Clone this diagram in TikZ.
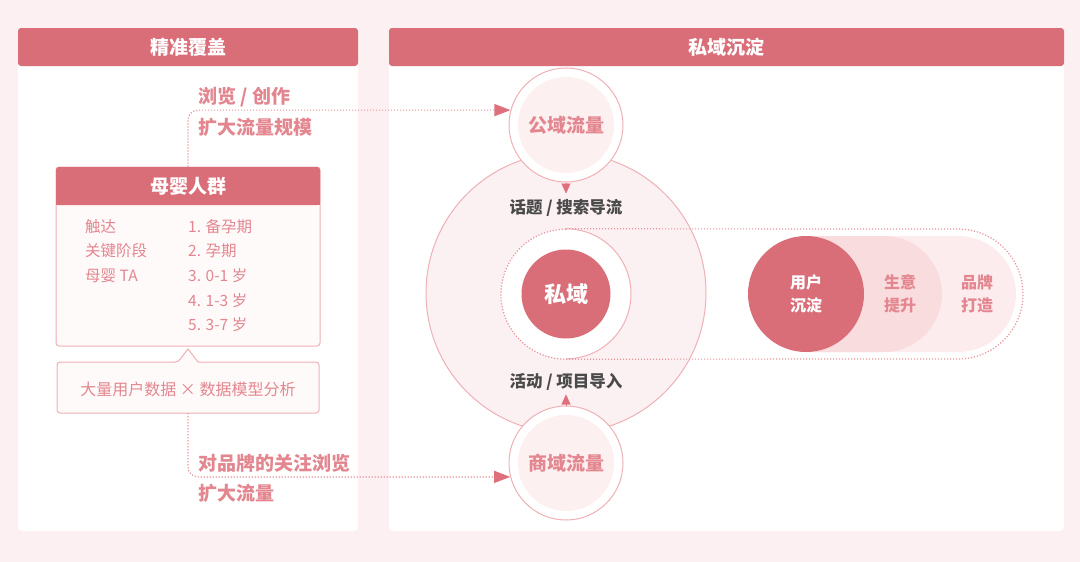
\documentclass[tikz,border=0pt]{standalone}
\usepackage{fontspec}
\setmainfont{Noto Sans CJK SC}
\usetikzlibrary{arrows.meta}
\definecolor{bgc}{HTML}{FCF0F2}
\definecolor{hdr}{HTML}{D96E79}
\definecolor{pinktxt}{HTML}{E3868F}
\definecolor{lightln}{HTML}{EFB0B6}
\definecolor{dotc}{HTML}{E8939B}
\definecolor{arrowc}{HTML}{DE707B}
\definecolor{boxf}{HTML}{FFFAFA}
\definecolor{bigf}{HTML}{FCF1F2}
\definecolor{cfill}{HTML}{FCF0F0}
\definecolor{st1}{HTML}{F9DCDE}
\definecolor{st2}{HTML}{FCECEE}
\definecolor{graytxt}{HTML}{4A4A4A}
\tikzset{
  hdrbar/.style={fill=hdr, rounded corners=3pt, text=white, inner sep=0pt, font=\bfseries\fontsize{19}{22}\selectfont},
  hdrtxt/.style={text=white, inner sep=0pt, font=\bfseries\fontsize{19}{22}\selectfont},
  lbl/.style={text=pinktxt, inner sep=0pt, anchor=west, font=\bfseries\fontsize{19}{22}\selectfont},
  listtxt/.style={text=pinktxt, inner sep=0pt, anchor=west, font=\fontsize{15.5}{18}\selectfont},
  dotln/.style={dotc, line width=1.2pt, dash pattern=on 1.2pt off 1.8pt},
  bigarrow/.style={-{Triangle[length=16pt,width=12pt,color=arrowc]}},
  smallarrow/.style={arrowc, line width=0.1pt, -{Triangle[length=10pt,width=9pt]}},
  grayl/.style={text=graytxt, inner sep=0pt, font=\bfseries\fontsize{16.5}{19}\selectfont},
  ctxt/.style={text=pinktxt, font=\bfseries\fontsize{19}{22}\selectfont},
}
\begin{document}
\begin{tikzpicture}[x=1pt,y=1pt]
\useasboundingbox (0,0) rectangle (1080,-562);
\fill[bgc] (0,0) rectangle (1080,-562);
% panels
\fill[white, rounded corners=4pt] (18,-28) rectangle (358,-531);
\fill[white, rounded corners=4pt] (389,-28) rectangle (1064,-531);
\node[hdrbar, minimum width=340pt, minimum height=38pt] (h1) at (188,-47) {精准覆盖};
\node[hdrbar, minimum width=675pt, minimum height=38pt] (h2) at (726.5,-47) {私域沉淀};

% box 母婴人群
\node[draw=lightln, fill=boxf, line width=1pt, rounded corners=3pt, minimum width=264pt, minimum height=179pt, inner sep=0pt] (b1) at (188,-256.5) {};
\fill[hdr, rounded corners=3pt] (56,-167) rectangle (320,-205);
\fill[hdr] (56,-195) rectangle (320,-205);
\node[hdrtxt] (b1h) at (188,-186) {母婴人群};
\node[listtxt] (a1) at (85,-227) {触达};
\node[listtxt] (a2) at (85,-251) {关键阶段};
\node[listtxt] (a3) at (85,-276) {母婴 TA};
\node[listtxt] (c1) at (188,-227) {1. 备孕期};
\node[listtxt] (c2) at (188,-251) {2. 孕期};
\node[listtxt] (c3) at (188,-276) {3. 0-1 岁};
\node[listtxt] (c4) at (188,-301) {4. 1-3 岁};
\node[listtxt] (c5) at (188,-325) {5. 3-7 岁};

% notch box
\node[minimum width=262pt, minimum height=51pt, inner sep=0pt] (b2) at (188,-387.5) {};
\draw[lightln, line width=1pt, fill=boxf, rounded corners=3pt] (57,-362) -- (178,-362) [sharp corners] -- (188,-349) -- (198,-362) [rounded corners=3pt] -- (319,-362) -- (319,-413) -- (57,-413) -- cycle;
\node[text=pinktxt, inner sep=0pt, font=\fontsize{16}{18}\selectfont] (b2t) at (188,-389) {大量用户数据 × 数据模型分析};

% big circle
\node[circle, draw=lightln, line width=1pt, fill=bigf, minimum size=280pt, inner sep=0pt] (big) at (566,-293) {};

% top / bottom circles
\node[circle, draw=lightln, line width=1pt, fill=white, minimum size=114pt, inner sep=0pt] (topc) at (566,-125) {};
\node[circle, fill=cfill, minimum size=96pt, inner sep=0pt, ctxt] (topi) at (topc) {公域流量};
\node[circle, draw=lightln, line width=1pt, fill=white, minimum size=114pt, inner sep=0pt] (botc) at (566,-463) {};
\node[circle, fill=cfill, minimum size=96pt, inner sep=0pt, ctxt] (boti) at (botc) {商域流量};

% inner white circle
\node[circle, fill=white, minimum size=130pt, inner sep=0pt] (inn) at (566,-294) {};
\draw[lightln, line width=1pt] (inn.north) arc[start angle=90, end angle=-90, radius=65pt];

% stadiums
\fill[st2] (806,-236) -- (958,-236) arc[start angle=90, end angle=-90, radius=58pt] -- (806,-352) -- cycle;
\fill[st1] (806,-236) -- (884,-236) arc[start angle=90, end angle=-90, radius=58pt] -- (806,-352) -- cycle;
\node[circle, fill=hdr, minimum size=116pt, inner sep=0pt, text=white, align=center, font=\bfseries\fontsize{16}{23}\selectfont] (yh) at (806,-294) {用户\\沉淀};
\node[text=pinktxt, align=center, inner sep=0pt, font=\bfseries\fontsize{16}{23}\selectfont] (sj) at (900,-294) {生意\\提升};
\node[text=pinktxt, align=center, inner sep=0pt, font=\bfseries\fontsize{16}{23}\selectfont] (pp) at (977,-294) {品牌\\打造};

% capsule dotted
\draw[dotln] (inn.north) -- (958,-229) arc[start angle=90, end angle=-90, radius=65pt] -- (inn.south) arc[start angle=270, end angle=90, radius=65pt];

% center
\node[circle, fill=hdr, minimum size=89pt, inner sep=0pt, text=white, font=\bfseries\fontsize{22}{24}\selectfont] (sy) at (566,-294) {私域};

% gray labels and small arrows
\node[grayl] (g1) at (566,-208) {话题 / 搜索导流};
\node[grayl] (g2) at (566,-382) {活动 / 项目导入};
\draw[smallarrow] (topc.south) -- ++(0,-11);
\draw[smallarrow] (botc.north) -- ++(0,11);

% left labels
\node[lbl] (t1) at (198,-97) {浏览 / 创作};
\node[lbl] (t2) at (198,-127) {扩大流量规模};
\node[lbl] (t3) at (198,-463) {对品牌的关注浏览};
\node[lbl] (t4) at (198,-493) {扩大流量};

% connectors
\draw[dotln, rounded corners=10pt, bigarrow] (b1.north) |- (topc.165.8);
\draw[dotln, rounded corners=10pt, bigarrow] (b2.south) |- (botc.194.2);
\end{tikzpicture}
\end{document}
